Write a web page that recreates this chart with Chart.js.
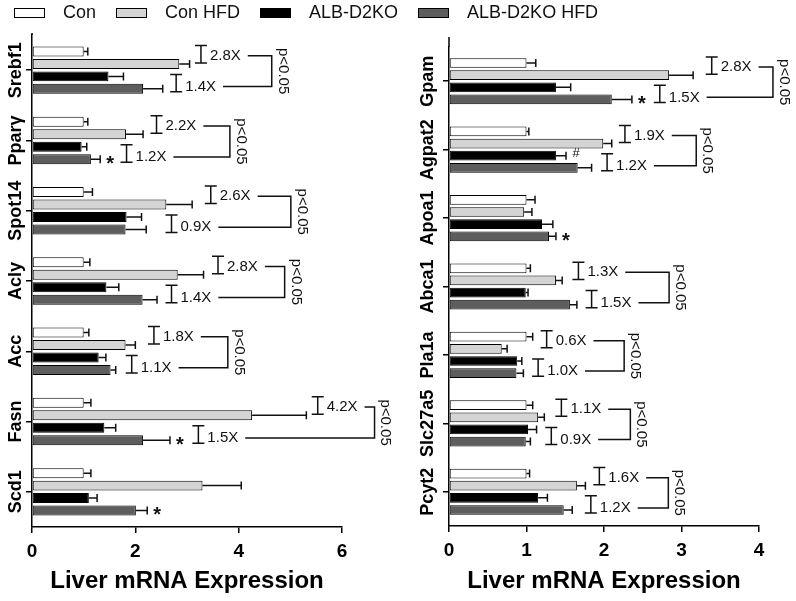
<!DOCTYPE html>
<html>
<head>
<meta charset="utf-8">
<script src="https://cdn.jsdelivr.net/npm/chart.js@4.4.1/dist/chart.umd.min.js"></script>
<style>
  body { margin: 0; background: #fff; }
  #wrap { position: relative; width: 796px; height: 601px; overflow: hidden; background: #fff; }
  #legend { position: absolute; left: 14px; top: 2px; z-index: 2; display: flex; align-items: center;
            font: 18px 'Liberation Sans', Arial, sans-serif; color: #111; line-height: 21px; }
  #legend .box { width: 29px; height: 8px; border: 1px solid #000; margin-right: 18px; }
  #legend .txt { margin-right: 20px; }
  canvas { position: absolute; top: 0; }
</style>
</head>
<body>
<div id="wrap">
  <div id="legend"></div>
  <canvas id="left" width="398" height="601" style="left:0"></canvas>
  <canvas id="right" width="398" height="601" style="left:398px"></canvas>
</div>
<script>
// Series shared by both panels
const seriesNames = ['Con', 'Con HFD', 'ALB-D2KO', 'ALB-D2KO HFD'];
const seriesColors = ['#ffffff', '#d4d4d4', '#000000', '#5e5e5e'];

// Left panel: lipogenic genes
const leftGenes = ['Srebf1', 'Pparγ', 'Spot14', 'Acly', 'Acc', 'Fasn', 'Scd1'];
const leftCon = [1.0, 1.0, 1.0, 1.0, 1.0, 1.0, 1.0];
const leftConErr = [0.08, 0.08, 0.17, 0.12, 0.1, 0.14, 0.14];
const leftConHfd = [2.85, 1.82, 2.6, 2.82, 1.81, 4.26, 3.3];
const leftConHfdErr = [0.2, 0.33, 0.5, 0.5, 0.19, 1.05, 0.75];
const leftKo = [1.48, 0.96, 1.83, 1.44, 1.29, 1.4, 1.1];
const leftKoErr = [0.29, 0.1, 0.29, 0.24, 0.14, 0.22, 0.16];
const leftKoHfd = [2.15, 1.14, 1.81, 2.14, 1.52, 2.15, 2.01];
const leftKoHfdErr = [0.38, 0.18, 0.4, 0.28, 0.1, 0.52, 0.22];
const leftFoldCon = ['2.8X', '2.2X', '2.6X', '2.8X', '1.8X', '4.2X', null];
const leftFoldKo = ['1.4X', '1.2X', '0.9X', '1.4X', '1.1X', '1.5X', null];
const leftKoMark = [null, null, null, null, null, null, null];
const leftKoHfdMark = [null, '*', null, null, null, '*', '*'];
const leftTicks = [0, 2, 4, 6];

// Right panel: other lipid genes
const rightGenes = ['Gpam', 'Agpat2', 'Apoa1', 'Abca1', 'Pla1a', 'Slc27a5', 'Pcyt2'];
const rightCon = [1.0, 1.0, 1.0, 1.0, 1.0, 1.0, 1.0];
const rightConErr = [0.12, 0.03, 0.11, 0.05, 0.08, 0.08, 0.04];
const rightConHfd = [2.84, 1.99, 0.97, 1.38, 0.68, 1.15, 1.65];
const rightConHfdErr = [0.31, 0.11, 0.1, 0.08, 0.07, 0.08, 0.11];
const rightKo = [1.38, 1.38, 1.2, 0.99, 0.88, 1.02, 1.15];
const rightKoErr = [0.19, 0.13, 0.14, 0.03, 0.06, 0.11, 0.12];
const rightKoHfd = [2.1, 1.66, 1.29, 1.56, 0.87, 0.99, 1.48];
const rightKoHfdErr = [0.26, 0.18, 0.09, 0.09, 0.09, 0.06, 0.11];
const rightFoldCon = ['2.8X', '1.9X', null, '1.3X', '0.6X', '1.1X', '1.6X'];
const rightFoldKo = ['1.5X', '1.2X', null, '1.5X', '1.0X', '0.9X', '1.2X'];
const rightKoMark = [null, '#', null, null, null, null, null];
const rightKoHfdMark = ['*', null, '*', null, null, null, null];
const rightTicks = [0, 1, 2, 3, 4];

// Where the fold-change brackets sit, in axis units (upper I, lower I, side bar)
const leftBrackets = {
  upper: [3.27, 2.41, 3.46, 3.6, 2.36, 5.53, null],
  lower: [2.79, 1.83, 2.7, 2.7, 1.93, 3.22, null],
  side: [4.64, 3.83, 5.01, 4.89, 3.79, 6.63, null]
};
const rightBrackets = {
  upper: [3.39, 2.27, null, 1.67, 1.26, 1.45, 1.94],
  lower: [2.72, 2.04, null, 1.84, 1.15, 1.32, 1.83],
  side: [4.18, 3.19, null, 2.84, 2.26, 2.34, 2.83]
};

const sans = "'Liberation Sans', Arial, sans-serif";

// HTML legend across the top
const legendEl = document.getElementById('legend');
seriesNames.forEach((name, i) => {
  const box = document.createElement('span');
  box.className = 'box';
  box.style.background = seriesColors[i];
  const txt = document.createElement('span');
  txt.className = 'txt';
  txt.textContent = name;
  legendEl.appendChild(box);
  legendEl.appendChild(txt);
});

// Error bars, marks, brackets and rotated gene names
const extrasPlugin = {
  id: 'extras',
  afterDatasetsDraw(chart) {
    const p = chart.options.plugins.extras;
    const ctx = chart.ctx;
    const xs = chart.scales.x;
    ctx.save();
    ctx.strokeStyle = '#111';
    ctx.fillStyle = '#111';
    ctx.lineWidth = 1.5;
    p.errors.forEach((errs, d) => {
      const meta = chart.getDatasetMeta(d);
      meta.data.forEach((bar, j) => {
        const x0 = bar.x;
        const x1 = xs.getPixelForValue(p.values[d][j] + errs[j]);
        ctx.beginPath();
        ctx.moveTo(x0, bar.y);
        ctx.lineTo(x1, bar.y);
        ctx.moveTo(x1, bar.y - 4);
        ctx.lineTo(x1, bar.y + 4);
        ctx.stroke();
        const mark = p.marks[d][j];
        if (mark) {
          ctx.font = mark === '*' ? 'bold 20px ' + sans : '13px ' + sans;
          ctx.textAlign = 'center';
          ctx.textBaseline = 'middle';
          ctx.fillText(mark, x1 + 10, mark === '*' ? bar.y + 5 : bar.y - 2);
        }
      });
    });
    ctx.restore();
  },
  afterDraw(chart) {
    const p = chart.options.plugins.extras;
    const ctx = chart.ctx;
    const xs = chart.scales.x;
    const ys = chart.scales.y;
    const area = chart.chartArea;
    const metas = [0, 1, 2, 3].map(i => chart.getDatasetMeta(i));
    ctx.save();
    // axis line a bit above the plot, as in the original
    ctx.strokeStyle = '#000';
    ctx.lineWidth = 1.5;
    ctx.beginPath();
    ctx.moveTo(area.left, area.top - p.axisExtra);
    ctx.lineTo(area.left, area.top);
    ctx.stroke();

    // gene names, reading bottom to top
    ctx.fillStyle = '#000';
    ctx.font = 'bold 18px ' + sans;
    ctx.textAlign = 'center';
    ctx.textBaseline = 'middle';
    p.genes.forEach((g, j) => {
      ctx.save();
      ctx.translate(p.labelX, ys.getPixelForValue(j));
      ctx.rotate(-Math.PI / 2);
      ctx.fillText(g, 0, 0);
      ctx.restore();
    });

    // fold-change brackets
    ctx.strokeStyle = '#111';
    ctx.fillStyle = '#111';
    ctx.lineWidth = 1.5;
    ctx.font = '15px ' + sans;
    p.foldCon.forEach((fc, j) => {
      if (!fc) return;
      const c = metas.map(m => m.data[j].y);
      const xu = xs.getPixelForValue(p.brackets.upper[j]);
      const xl = xs.getPixelForValue(p.brackets.lower[j]);
      const xb = xs.getPixelForValue(p.brackets.side[j]);
      const yu = (c[0] + c[1]) / 2 - 2;
      const yl = (c[2] + c[3]) / 2 + 4;
      const drawI = (x, y0, y1) => {
        ctx.beginPath();
        ctx.moveTo(x, y0); ctx.lineTo(x, y1);
        ctx.moveTo(x - 6, y0); ctx.lineTo(x + 6, y0);
        ctx.moveTo(x - 6, y1); ctx.lineTo(x + 6, y1);
        ctx.stroke();
      };
      drawI(xu, c[0] - 6, c[1] - 1);
      drawI(xl, c[2] - 2, c[3] + 3);
      ctx.textAlign = 'left';
      ctx.textBaseline = 'middle';
      ctx.fillText(fc, xu + 9, yu);
      ctx.fillText(p.foldKo[j], xl + 9, yl);
      const eu = xu + 9 + ctx.measureText(fc).width + 7;
      const el = xl + 9 + ctx.measureText(p.foldKo[j]).width + 7;
      ctx.beginPath();
      ctx.moveTo(eu, yu);
      ctx.lineTo(xb, yu);
      ctx.lineTo(xb, yl);
      ctx.lineTo(el, yl);
      ctx.stroke();
      ctx.save();
      ctx.translate(xb + 11, (yu + yl) / 2);
      ctx.rotate(Math.PI / 2);
      ctx.textAlign = 'center';
      ctx.fillText('p<0.05', 0, 0);
      ctx.restore();
    });
    ctx.restore();
  }
};

function makePanel(id, genes, values, errors, marks, foldCon, foldKo, brackets, ticks, layout) {
  return new Chart(document.getElementById(id), {
    type: 'bar',
    data: {
      labels: genes,
      datasets: values.map((v, i) => ({
        label: seriesNames[i],
        data: v,
        backgroundColor: seriesColors[i],
        borderColor: '#000',
        borderWidth: 1,
        borderSkipped: false,
        categoryPercentage: 0.71,
        barPercentage: 0.8
      }))
    },
    options: {
      indexAxis: 'y',
      responsive: false,
      animation: false,
      layout: { padding: { top: layout.top, right: layout.right, left: 0, bottom: 0 } },
      plugins: {
        legend: { display: false },
        tooltip: { enabled: false },
        extras: {
          genes, values, errors, marks, foldCon, foldKo, brackets,
          labelX: layout.labelX, axisExtra: layout.axisExtra
        }
      },
      scales: {
        x: {
          min: ticks[0],
          max: ticks[ticks.length - 1],
          afterFit: s => { s.height = layout.xHeight; },
          afterBuildTicks: s => { s.ticks = ticks.map(v => ({ value: v })); },
          ticks: { color: '#000', padding: 7, font: { family: sans, size: 19, weight: 'bold' } },
          grid: { drawOnChartArea: false, tickLength: 6, color: '#000', lineWidth: 1.5 },
          border: { color: '#000', width: 1.5 },
          title: {
            display: true,
            text: 'Liver mRNA Expression',
            color: '#000',
            font: { family: sans, size: 24, weight: 'bold' },
            padding: { top: 4, bottom: 5 }
          }
        },
        y: {
          afterFit: s => { s.width = layout.yWidth; },
          ticks: { display: false },
          grid: { drawOnChartArea: false, offset: false, tickLength: 6, color: '#000', lineWidth: 1.5 },
          border: { color: '#000', width: 1.5 }
        }
      }
    },
    plugins: [extrasPlugin]
  });
}

makePanel('left', leftGenes,
  [leftCon, leftConHfd, leftKo, leftKoHfd],
  [leftConErr, leftConHfdErr, leftKoErr, leftKoHfdErr],
  [[null], [null], leftKoMark, leftKoHfdMark].map(m => leftGenes.map((_, j) => m[j] || null)),
  leftFoldCon, leftFoldKo, leftBrackets, leftTicks,
  { top: 35, right: 56, yWidth: 32, xHeight: 74, labelX: 16, axisExtra: 2 });

makePanel('right', rightGenes,
  [rightCon, rightConHfd, rightKo, rightKoHfd],
  [rightConErr, rightConHfdErr, rightKoErr, rightKoHfdErr],
  [[null], [null], rightKoMark, rightKoHfdMark].map(m => rightGenes.map((_, j) => m[j] || null)),
  rightFoldCon, rightFoldKo, rightBrackets, rightTicks,
  { top: 47, right: 37, yWidth: 51, xHeight: 75, labelX: 30, axisExtra: 10 });
</script>
</body>
</html>
